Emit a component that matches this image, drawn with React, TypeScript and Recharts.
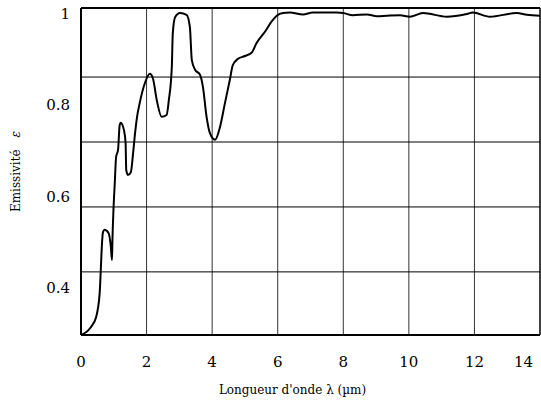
import { LineChart, Line, XAxis, YAxis, ReferenceLine } from "recharts";

const lambda = [
  0, 0.3, 0.46, 0.57, 0.6, 0.64, 0.67, 0.72, 0.84, 0.91, 0.945, 0.96, 0.99, 1.03, 1.07, 1.13, 1.18, 1.21,
  1.31, 1.36, 1.38, 1.43, 1.52, 1.59, 1.65, 1.71, 1.79, 1.95, 2.1, 2.19, 2.31, 2.46, 2.61, 2.68, 2.77, 2.8,
  2.87, 3.02, 3.22, 3.32, 3.38, 3.48, 3.63, 3.72, 3.83, 3.93, 4.09, 4.24, 4.39, 4.54, 4.63, 4.79, 5.0, 5.2,
  5.36, 5.61, 5.81, 5.97, 6.16, 6.37, 6.77, 7.07, 7.38, 7.8, 8.0, 8.29, 8.72, 9.02, 9.33, 9.73, 10.03,
  10.43, 11.16, 11.77, 11.95, 12.47, 13.29, 13.6, 14,
];
const emissivity = [
  0.3, 0.317, 0.339, 0.392, 0.436, 0.5, 0.525, 0.53, 0.523, 0.493, 0.464, 0.51, 0.573, 0.632, 0.689, 0.705,
  0.759, 0.764, 0.748, 0.72, 0.661, 0.65, 0.656, 0.698, 0.742, 0.777, 0.807, 0.851, 0.871, 0.862, 0.814,
  0.777, 0.781, 0.814, 0.886, 0.96, 0.995, 1.004, 1.0, 0.974, 0.901, 0.88, 0.869, 0.842, 0.777, 0.742,
  0.727, 0.755, 0.807, 0.858, 0.89, 0.904, 0.91, 0.917, 0.939, 0.963, 0.985, 0.998, 1.004, 1.005, 1.001,
  1.005, 1.005, 1.005, 1.004, 0.999, 1.001, 0.997, 0.998, 0.999, 0.996, 1.004, 0.996, 1.002, 1.005, 0.996,
  1.004, 1.0, 0.998,
];

const xTicks = [0, 2, 4, 6, 8, 10, 12, 14];
const yTicks = [0.4, 0.6, 0.8, 1];
const xGrid = [2, 4, 6, 8, 10, 12];
const yGrid = [0.438, 0.58, 0.722, 0.864];
const yDomain: [number, number] = [0.3, 1.015];

const FONT = "DejaVu Serif";

const data = lambda.map((x, i) => ({ x, e: emissivity[i] }));

function XTick({ x, y, payload, index }: any) {
  const last = index === xTicks.length - 1;
  return (
    <text
      x={x}
      y={y + 20}
      textAnchor={last ? "end" : "middle"}
      dominantBaseline="middle"
      fontSize={15}
      fontFamily={FONT}
      fill="#000"
    >
      {payload.value}
    </text>
  );
}

function YTick({ x, y, payload }: any) {
  return (
    <text x={x - 3} y={y} textAnchor="end" dominantBaseline="middle" fontSize={15} fontFamily={FONT} fill="#000">
      {String(payload.value)}
    </text>
  );
}

function XLabel({ viewBox }: any) {
  const cx = viewBox.x + viewBox.width / 2 - 18;
  return (
    <text x={cx} y={390} textAnchor="middle" dominantBaseline="middle" fontSize={12} fontFamily={FONT} fill="#000">
      Longueur d'onde λ (µm)
    </text>
  );
}

function YLabel({ viewBox }: any) {
  const cy = viewBox.y + viewBox.height / 2;
  const cx = 16;
  return (
    <text
      x={cx}
      y={cy}
      transform={`rotate(-90 ${cx} ${cy})`}
      textAnchor="middle"
      dominantBaseline="middle"
      fontSize={12}
      fontFamily={FONT}
      fill="#000"
    >
      Emissivité{"\u2003"}
      <tspan fontStyle="italic">ε</tspan>
    </text>
  );
}

export default function App() {
  return (
    <div style={{ position: "absolute", left: 0, top: 0, background: "#fff" }}>
      <LineChart width={541} height={406} data={data} margin={{ top: 8, right: 1, bottom: 0, left: 0 }}>
        <XAxis
          dataKey="x"
          type="number"
          domain={[0, 14]}
          ticks={xTicks}
          tickLine={false}
          axisLine={{ stroke: "#000", strokeWidth: 2 }}
          tick={<XTick />}
          height={71}
          label={<XLabel />}
        />
        <YAxis
          type="number"
          domain={yDomain}
          ticks={yTicks}
          tickLine={false}
          axisLine={{ stroke: "#000", strokeWidth: 2 }}
          tick={<YTick />}
          width={81}
          allowDataOverflow
          label={<YLabel />}
        />
        {xGrid.map((v) => (
          <ReferenceLine key={"gx" + v} x={v} stroke="#333" strokeWidth={1} />
        ))}
        {yGrid.map((v) => (
          <ReferenceLine key={"gy" + v} y={v} stroke="#000" strokeWidth={1} />
        ))}
        <ReferenceLine y={yDomain[1]} stroke="#000" strokeWidth={2} />
        <ReferenceLine x={14} stroke="#000" strokeWidth={1.5} />
        <Line
          type="monotone"
          dataKey="e"
          stroke="#000"
          strokeWidth={2}
          dot={false}
          isAnimationActive={false}
        />
      </LineChart>
    </div>
  );
}
